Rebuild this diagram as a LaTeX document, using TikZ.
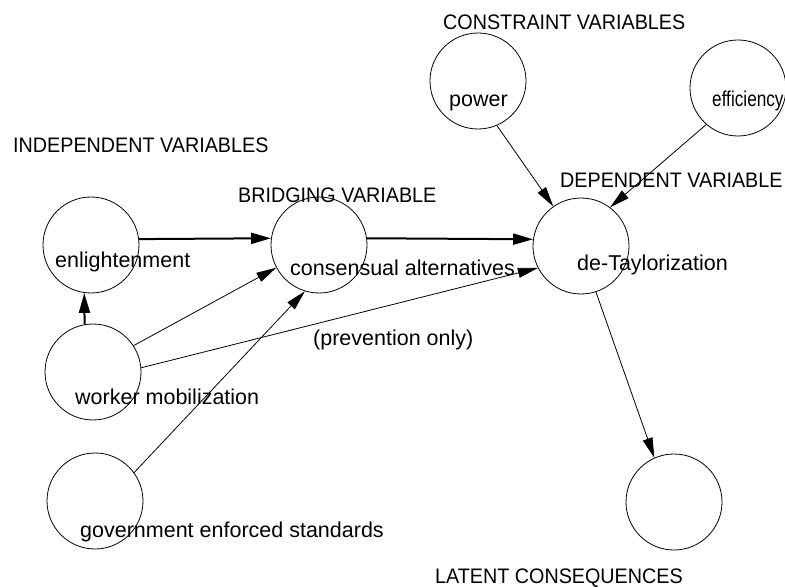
\documentclass[tikz,border=0pt]{standalone}
\usepackage{fontspec}
\setmainfont{Liberation Sans}
\newfontfamily\capsfont[FakeStretch=0.94]{Liberation Sans}
\newfontfamily\narrowfont[FakeStretch=0.8]{Liberation Sans}
\usetikzlibrary{arrows.meta}
\begin{document}
\begin{tikzpicture}[x=1pt,y=-1pt,
  var/.style={circle,draw,line width=0.8pt,minimum size=96pt,inner sep=0pt},
  head/.style={anchor=base west,inner sep=0pt,font=\capsfont\fontsize{21}{25}\selectfont},
  lbl/.style={anchor=base west,inner sep=0pt,font=\fontsize{21.5}{25}\selectfont},
  linkthin/.style={-{Triangle[length=20pt,width=10pt]},line width=0.8pt},
  linkthick/.style={-{Triangle[length=20pt,width=11pt]},line width=2pt}]
\useasboundingbox (0,0) rectangle (785,588);
% circles
\node[var] (enl) at (91,245) {};
\node[var] (cons) at (319,245) {};
\node[var] (det) at (581,246) {};
\node[var] (pow) at (478,81) {};
\node[var] (eff) at (738,88) {};
\node[var] (wrk) at (93,372) {};
\node[var] (gov) at (95,501) {};
\node[var] (lat) at (674,502) {};
% headings
\node[head] (hind) at (13,153) {INDEPENDENT VARIABLES};
\node[head] (hbri) at (238,203) {BRIDGING VARIABLE};
\node[head] (hcon) at (443,30) {CONSTRAINT VARIABLES};
\node[head] (hdep) at (560,188) {DEPENDENT VARIABLE};
\node[head] (hlat) at (435,583) {LATENT CONSEQUENCES};
% connectors
\draw[linkthick] (enl.7) -- (cons.172);
\draw[linkthick] (cons.8) -- (det.172);
\draw[linkthick] (wrk.100) -- (enl.-98);
\draw[linkthin] (wrk.33) -- (cons.208);
\draw[linkthin] (wrk.5) -- (det.207);
\draw[linkthin] (gov.36) -- (cons.253);
\draw[linkthin] (pow.-67) -- (det.125);
\draw[linkthin] (eff.-131) -- (det.53);
\draw[linkthin] (det.-72) -- (lat.114);
% labels
\node[lbl] (tenl) at (55,268) {enlightenment};
\node[lbl] (tcons) at (290,276) {consensual alternatives};
\node[lbl] (tdet) at (577,271) {de-Taylorization};
\node[lbl] (tpow) at (449,107) {power};
\node[lbl,font=\narrowfont\fontsize{21.5}{25}\selectfont] (teff) at (712,107) {efficiency};
\node[lbl] (twrk) at (75,404) {worker mobilization};
\node[lbl] (tgov) at (80,537) {government enforced standards};
\node[lbl] (tprev) at (313,345) {(prevention only)};
\end{tikzpicture}
\end{document}
